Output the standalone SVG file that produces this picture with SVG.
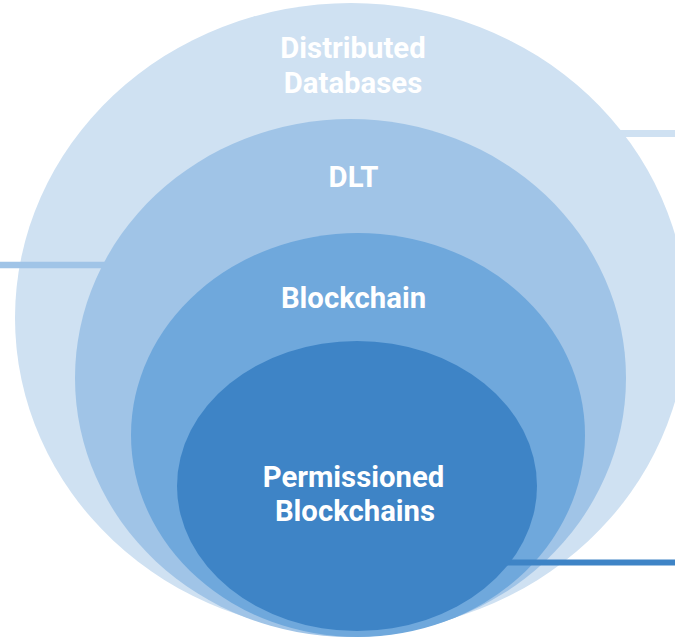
<svg xmlns="http://www.w3.org/2000/svg" width="675" height="638" viewBox="0 0 675 638">
  <style>
    .lbl { font-family: Roboto, "Liberation Sans", sans-serif; font-weight: bold; font-size: 29.3px; fill: #ffffff; text-anchor: middle; }
    .c1 { fill: #cfe1f2; }
    .c2 { fill: #a0c4e7; }
    .c3 { fill: #6fa8dc; }
    .c4 { fill: #3e84c6; }
    .l1 { stroke: #cfe1f2; stroke-width: 7; fill: none; }
    .l2 { stroke: #a0c4e7; stroke-width: 6.5; fill: none; }
    .l4 { stroke: #3e84c6; stroke-width: 6; fill: none; }
  </style>
  <rect width="675" height="638" fill="#ffffff"/>
  <g id="distributed-databases">
    <ellipse class="c1" cx="351" cy="318" rx="336" ry="315"/>
  </g>
  <g id="connectors">
    <line class="l1" x1="610" y1="133.5" x2="675" y2="133.5"/>
    <line class="l2" x1="0" y1="265" x2="120" y2="265"/>
  </g>
  <g id="dlt">
    <ellipse class="c2" cx="350.5" cy="378" rx="275.5" ry="259"/>
  </g>
  <g id="blockchain">
    <ellipse class="c3" cx="358" cy="435" rx="227" ry="202"/>
  </g>
  <g id="connector-permissioned">
    <line class="l4" x1="480" y1="562.5" x2="675" y2="562.5"/>
  </g>
  <g id="permissioned-blockchains">
    <ellipse class="c4" cx="357" cy="486" rx="180" ry="145"/>
  </g>
  <g id="labels">
    <text class="lbl" x="353" y="58">Distributed</text>
    <text class="lbl" x="353" y="92.5">Databases</text>
    <text class="lbl" x="353.5" y="187">DLT</text>
    <text class="lbl" x="353.5" y="307.5">Blockchain</text>
    <text class="lbl" x="353.5" y="487">Permissioned</text>
    <text class="lbl" x="355" y="521">Blockchains</text>
  </g>
</svg>
